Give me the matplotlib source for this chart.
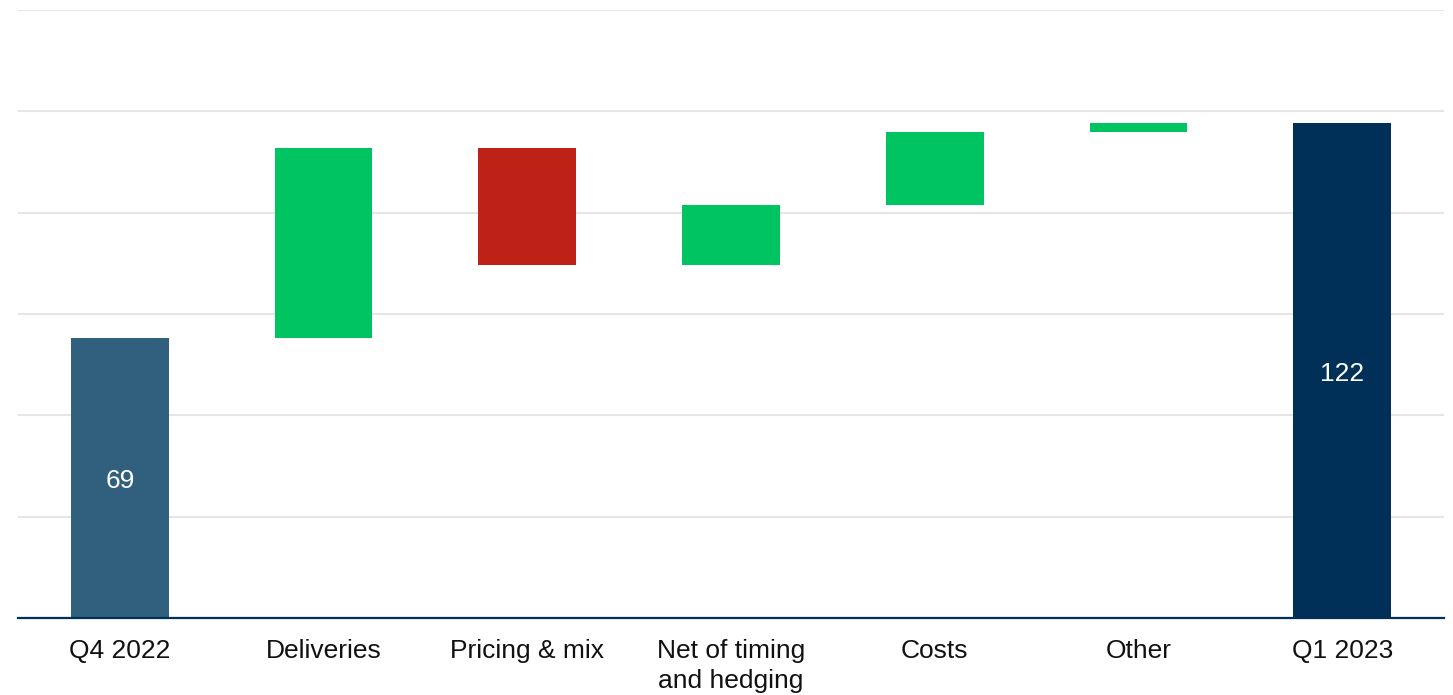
import matplotlib
matplotlib.use("Agg")
import matplotlib.pyplot as plt

# -- Data --
categories = ["Q4 2022", "Deliveries", "Pricing & mix", "Net of timing\nand hedging",
              "Costs", "Other", "Q1 2023"]
changes = [69, 47, -29, 15, 18, 2, 122]   # first and last are totals
kinds = ["total", "step", "step", "step", "step", "step", "total"]
labels = ["69", "", "", "", "", "", "122"]

# -- Colours --
start_col = "#31607F"
end_col = "#003057"
up_col = "#00C462"
down_col = "#BE2116"

plt.rcParams["font.family"] = ["Liberation Sans", "DejaVu Sans"]

fig = plt.figure(figsize=(14.53, 6.95), dpi=100)
ax = fig.add_axes([18 / 1453, 1 - 618 / 695, 1426 / 1453, 608 / 695])

running = 0
for i, (cat, val, kind) in enumerate(zip(categories, changes, kinds)):
    if kind == "total":
        col = start_col if i == 0 else end_col
        ax.bar(i, val, width=0.48, color=col, zorder=3)
        running = val
        if labels[i]:
            ax.text(i, val / 2 - 0.7, labels[i], ha="center", va="center",
                    color="white", fontsize=19, zorder=4)
    else:
        col = up_col if val >= 0 else down_col
        ax.bar(i, val, bottom=running, width=0.48, color=col, zorder=3)
        running += val

# -- Cosmetics --
ax.set_xlim(-0.5, len(categories) - 0.5)
ax.set_ylim(0, 150)
ax.set_yticks(range(0, 151, 25))
ax.yaxis.grid(True, color="#E6E6E6", linewidth=1.5, zorder=0)
ax.tick_params(axis="y", left=False, labelleft=False)
ax.set_xticks(range(len(categories)))
ax.set_xticklabels(categories, fontsize=19, color="#111111", linespacing=1.32)
ax.tick_params(axis="x", length=0, pad=15)
for s in ["top", "right", "left"]:
    ax.spines[s].set_visible(False)
ax.spines["bottom"].set_color("#003057")
ax.spines["bottom"].set_linewidth(1.6)
ax.spines["bottom"].set_zorder(5)

fig.savefig("out.png", dpi=100)
